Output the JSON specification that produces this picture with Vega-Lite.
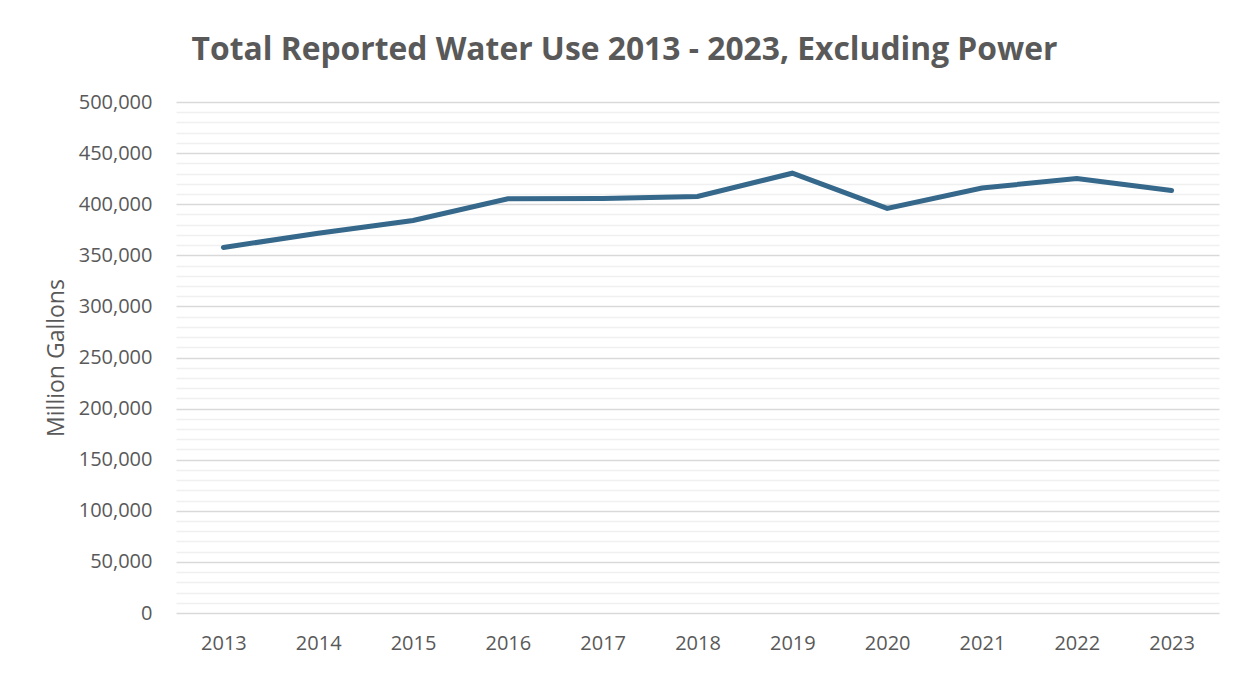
{
  "$schema": "https://vega.github.io/schema/vega-lite/v6.json",
  "autosize": {"type": "none"},
  "width": 1043,
  "height": 511,
  "padding": {"left": 176, "top": 102, "right": 30, "bottom": 62},
  "background": "white",
  "title": {
    "text": "Total Reported Water Use 2013 - 2023, Excluding Power",
    "font": "Open Sans",
    "fontSize": 31.8,
    "fontWeight": "bold",
    "color": "#595959",
    "anchor": "middle",
    "frame": "group",
    "dx": -73,
    "baseline": "alphabetic",
    "offset": 0
  },
  "data": {
    "values": [
      {"year": "2013", "gallons": 357700},
      {"year": "2014", "gallons": 371500},
      {"year": "2015", "gallons": 384000},
      {"year": "2016", "gallons": 405300},
      {"year": "2017", "gallons": 405600},
      {"year": "2018", "gallons": 407500},
      {"year": "2019", "gallons": 430300},
      {"year": "2020", "gallons": 395900},
      {"year": "2021", "gallons": 415800},
      {"year": "2022", "gallons": 425200},
      {"year": "2023", "gallons": 413500}
    ]
  },
  "mark": {"type": "line", "color": "#35688A", "strokeWidth": 5, "strokeCap": "round", "strokeJoin": "miter"},
  "encoding": {
    "x": {
      "field": "year",
      "type": "ordinal",
      "scale": {"type": "point", "padding": 0.5},
      "axis": {
        "title": null,
        "labelAngle": 0,
        "ticks": false,
        "domain": false,
        "grid": false,
        "labelFont": "Open Sans",
        "labelFontSize": 20,
        "labelColor": "#595959",
        "labelPadding": 20
      }
    },
    "y": {
      "field": "gallons",
      "type": "quantitative",
      "scale": {"domain": [0, 500000], "nice": false},
      "axis": {
        "title": "Million Gallons",
        "titleFont": "Open Sans",
        "titleFontSize": 23,
        "titleFontWeight": "normal",
        "titleColor": "#595959",
        "titlePadding": 10,
        "values": [0,10000,20000,30000,40000,50000,60000,70000,80000,90000,100000,110000,120000,130000,140000,150000,160000,170000,180000,190000,200000,210000,220000,230000,240000,250000,260000,270000,280000,290000,300000,310000,320000,330000,340000,350000,360000,370000,380000,390000,400000,410000,420000,430000,440000,450000,460000,470000,480000,490000,500000],
        "labelExpr": "datum.value % 50000 === 0 ? format(datum.value, ',') : ''",
        "labelFont": "Open Sans",
        "labelFontSize": 20,
        "labelColor": "#595959",
        "labelPadding": 24,
        "ticks": false,
        "tickSize": 0,
        "domain": false,
        "grid": true,
        "gridColor": {"condition": {"test": "datum.value % 50000 === 0", "value": "#d9d9d9"}, "value": "#f0f0f0"},
        "gridWidth": 1.5
      }
    }
  },
  "config": {"view": {"stroke": null}}
}
